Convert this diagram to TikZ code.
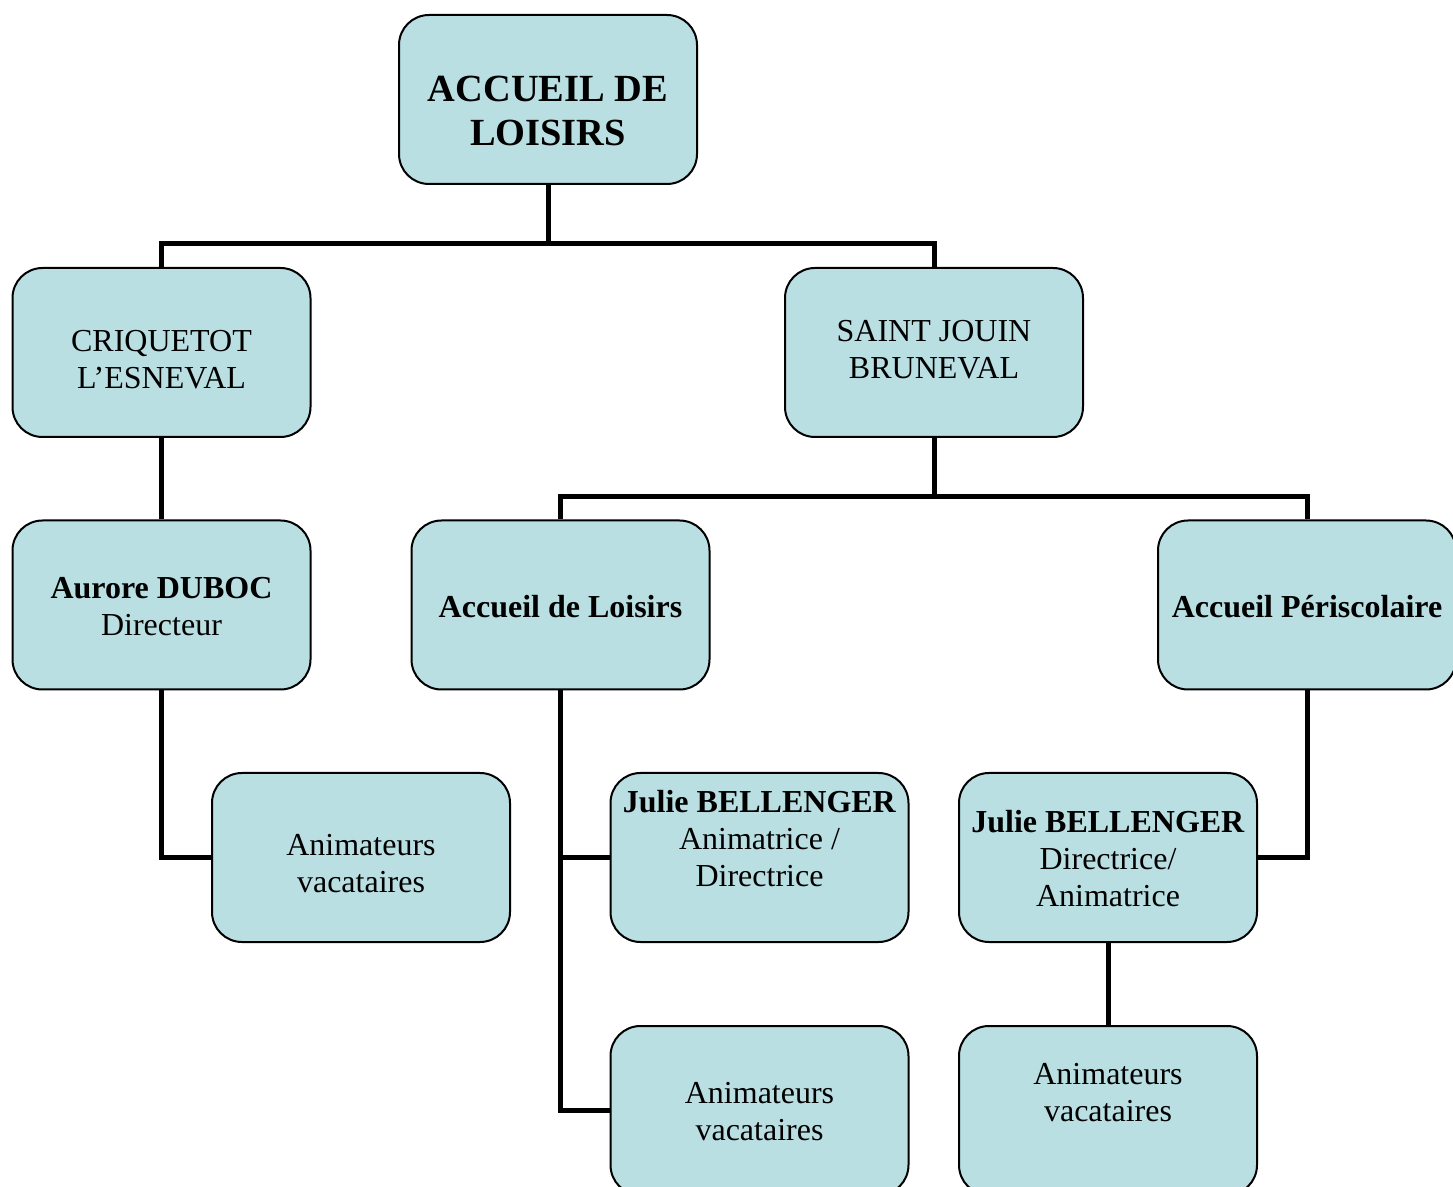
\documentclass[tikz,border=0pt]{standalone}
\usepackage{fontspec}
\setmainfont{Liberation Serif}
\definecolor{boxblue}{RGB}{185,223,227}
\begin{document}
\begin{tikzpicture}[x=0.5pt,y=-0.5pt,
  box/.style={draw=black, line width=1pt, rounded corners=15pt, fill=boxblue,
    minimum width=149pt, minimum height=84.5pt, inner sep=0pt},
  txt/.style={align=center, inner sep=0pt, font=\fontsize{16}{18.5}\selectfont},
  bigtxt/.style={align=center, inner sep=0pt, font=\fontsize{19.2}{22}\selectfont\bfseries},
  conn/.style={draw=black, line width=2.5pt}]
\useasboundingbox (0,0) rectangle (1453,1187);
\clip (0,0) rectangle (1453,1187);
\fill[white] (0,0) rectangle (1453,1187);

% boxes
\node[box] (top)  at (548,99.5) {};
\node[box] (crq)  at (161.5,352.5) {};
\node[box] (sj)   at (934,352.5) {};
\node[box] (aur)  at (161.5,605) {};
\node[box] (acl)  at (560.5,605) {};
\node[box] (peri) at (1307,605) {};
\node[box] (anL)  at (361,857.5) {};
\node[box] (jul1) at (759.5,857.5) {};
\node[box] (jul2) at (1108,857.5) {};
\node[box] (anM)  at (759.5,1110.5) {};
\node[box] (anR)  at (1108,1110.5) {};

% connectors
\draw[conn] (top.south) -- ++(0,59) -| (crq.north);
\draw[conn] (top.south) -- ++(0,59) -| (sj.north);
\draw[conn] (crq.south) -- (aur.north);
\draw[conn] (aur.south) |- (anL.west);
\draw[conn] (sj.south) -- ++(0,59) -| (acl.north);
\draw[conn] (sj.south) -- ++(0,59) -| (peri.north);
\draw[conn] (acl.south) |- (jul1.west);
\draw[conn] (acl.south) |- (anM.west);
\draw[conn] (peri.south) |- (jul2.east);
\draw[conn] (jul2.south) -- (anR.north);

% texts
\node[bigtxt] (ttop) at (548,111) {ACCUEIL DE\\LOISIRS};
\node[txt] (tcrq) at (161.5,360) {CRIQUETOT\\L’ESNEVAL};
\node[txt] (tsj) at (934,350) {SAINT JOUIN\\BRUNEVAL};
\node[txt] (taur) at (161.5,607) {\textbf{Aurore DUBOC}\\Directeur};
\node[txt] (tacl) at (560.5,607) {\textbf{Accueil de Loisirs}};
\node[txt] (tperi) at (1307,607) {\textbf{Accueil Périscolaire}};
\node[txt] (tanL) at (361,864) {Animateurs\\vacataires};
\node[txt] (tjul1) at (759.5,839) {\textbf{Julie BELLENGER}\\Animatrice /\\Directrice};
\node[txt] (tjul2) at (1108,859) {\textbf{Julie BELLENGER}\\Directrice/\\Animatrice};
\node[txt] (tanM) at (759.5,1112) {Animateurs\\vacataires};
\node[txt] (tanR) at (1108,1093) {Animateurs\\vacataires};
\end{tikzpicture}
\end{document}
